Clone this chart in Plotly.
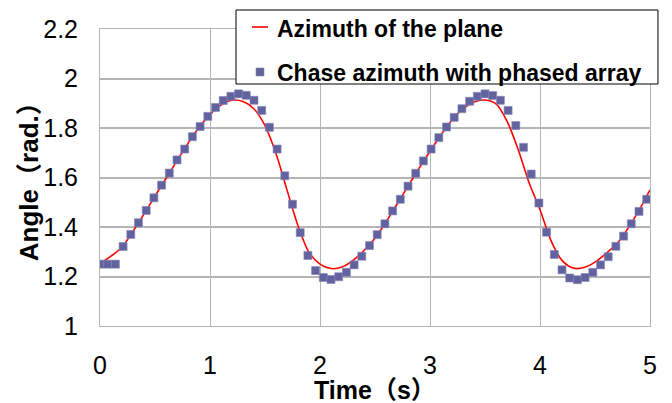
import plotly.graph_objects as go

# Azimuth of the plane (smooth reference curve), sampled every 0.1 s
plane_t = [0.0, 0.1, 0.2, 0.3, 0.4, 0.5, 0.6, 0.7, 0.8, 0.9,
           1.0, 1.1, 1.2, 1.3, 1.4, 1.5, 1.6, 1.7, 1.8, 1.9,
           2.0, 2.1, 2.2, 2.3, 2.4, 2.5, 2.6, 2.7, 2.8, 2.9,
           3.0, 3.1, 3.2, 3.3, 3.4, 3.5, 3.6, 3.7, 3.8, 3.9,
           4.0, 4.1, 4.2, 4.3, 4.4, 4.5, 4.6, 4.7, 4.8, 4.9, 5.0]
plane_az = [1.252, 1.282, 1.318, 1.383, 1.452, 1.525, 1.596, 1.668, 1.738, 1.802,
            1.855, 1.893, 1.912, 1.907, 1.877, 1.810, 1.697, 1.550, 1.405, 1.298,
            1.250, 1.232, 1.238, 1.265, 1.305, 1.355, 1.420, 1.492, 1.565, 1.637,
            1.706, 1.772, 1.832, 1.878, 1.905, 1.913, 1.897, 1.828, 1.715, 1.580,
            1.470, 1.345, 1.265, 1.234, 1.236, 1.258, 1.293, 1.333, 1.395, 1.467, 1.550]

# Azimuth tracked by the phased array, one sample every 0.07 s
chase_t = [0.00, 0.07, 0.14, 0.21, 0.28, 0.35, 0.42, 0.49, 0.56, 0.63,
           0.70, 0.77, 0.84, 0.91, 0.98, 1.05, 1.12, 1.19, 1.26, 1.33,
           1.40, 1.47, 1.54, 1.61, 1.68, 1.75, 1.82, 1.89, 1.96, 2.03,
           2.10, 2.17, 2.24, 2.31, 2.38, 2.45, 2.52, 2.59, 2.66, 2.73,
           2.80, 2.87, 2.94, 3.01, 3.08, 3.15, 3.22, 3.29, 3.36, 3.43,
           3.50, 3.57, 3.64, 3.71, 3.78, 3.85, 3.92, 3.99, 4.06, 4.13,
           4.20, 4.27, 4.34, 4.41, 4.48, 4.55, 4.62, 4.69, 4.76, 4.83,
           4.90, 4.97]
chase_az = [1.250, 1.250, 1.250, 1.321, 1.370, 1.417, 1.467, 1.518, 1.569, 1.618,
            1.671, 1.715, 1.765, 1.806, 1.847, 1.883, 1.911, 1.928, 1.938, 1.932,
            1.912, 1.871, 1.803, 1.715, 1.607, 1.492, 1.377, 1.285, 1.224, 1.196,
            1.188, 1.199, 1.217, 1.247, 1.282, 1.325, 1.369, 1.413, 1.465, 1.512,
            1.565, 1.617, 1.667, 1.715, 1.761, 1.804, 1.843, 1.878, 1.908, 1.928,
            1.938, 1.931, 1.912, 1.871, 1.810, 1.722, 1.614, 1.497, 1.379, 1.289,
            1.227, 1.194, 1.187, 1.196, 1.217, 1.247, 1.280, 1.322, 1.363, 1.413,
            1.463, 1.512]

x_ticks = [0, 1, 2, 3, 4, 5]
y_ticks = [1, 1.2, 1.4, 1.6, 1.8, 2, 2.2]
y_tick_text = ["1", "1.2", "1.4", "1.6", "1.8", "2", "2.2"]

PLANE_NAME = "Azimuth of the plane"
CHASE_NAME = "Chase azimuth with phased array"

FONT = "Liberation Sans, Arial, Noto Sans CJK SC, sans-serif"
GRID = "#b5b5b5"
RED = "#ff0000"
SLATE = "#62639e"

fig = go.Figure()
fig.add_trace(go.Scatter(
    x=plane_t, y=plane_az, mode="lines", name=PLANE_NAME,
    line=dict(color=RED, width=1.6, shape="spline", smoothing=0.8),
))
fig.add_trace(go.Scatter(
    x=chase_t, y=chase_az, mode="markers", name=CHASE_NAME,
    marker=dict(symbol="square", size=8, color=SLATE,
                line=dict(color="#8587b8", width=0.6)),
))

# Boxed key in the upper part of the chart (paper coordinates)
key_shapes = [
    dict(type="rect", xref="paper", yref="paper", layer="above",
         x0=0.2473, x1=1.0145, y0=0.8148, y1=1.0640,
         fillcolor="white", line=dict(color="black", width=1)),
    dict(type="line", xref="paper", yref="paper", layer="above",
         x0=0.2764, x1=0.3055, y0=1.0067, y1=1.0067,
         line=dict(color=RED, width=1.6)),
    dict(type="rect", xref="paper", yref="paper", layer="above",
         x0=0.2836, x1=0.2982, y0=0.8418, y1=0.8687,
         fillcolor=SLATE, line=dict(color="#8587b8", width=0.6)),
]
key_font = dict(family=FONT, size=23, color="black", weight="bold")
key_labels = [
    dict(text=PLANE_NAME, xref="paper", yref="paper", x=0.3175, y=1.0000,
         xanchor="left", yanchor="middle", showarrow=False, font=key_font),
    dict(text=CHASE_NAME, xref="paper", yref="paper", x=0.3175, y=0.8519,
         xanchor="left", yanchor="middle", showarrow=False, font=key_font),
]

title_font = dict(family=FONT, size=25, color="black", weight="bold")
axis_titles = [
    dict(text="Time（s）", xref="paper", yref="paper", x=0.5, y=-0.2155,
         xanchor="center", yanchor="middle", showarrow=False, font=title_font),
    dict(text="Angle（rad.）", xref="paper", yref="paper", x=-0.129, y=0.508,
         xanchor="center", yanchor="middle", textangle=-90, showarrow=False,
         font=dict(family=FONT, size=26, color="black", weight="bold")),
]

fig.update_layout(
    width=672, height=403,
    margin=dict(l=100, r=22, t=29, b=77),
    paper_bgcolor="white", plot_bgcolor="white",
    font=dict(family=FONT, color="black"),
    showlegend=False,
    xaxis=dict(
        range=[0, 5], tickvals=x_ticks, ticks="",
        showgrid=True, gridcolor=GRID, gridwidth=1,
        showline=True, mirror=True, linecolor=GRID, linewidth=1,
        zeroline=False, ticklabelstandoff=17,
        tickfont=dict(family=FONT, size=25, color="black"),
    ),
    yaxis=dict(
        range=[1, 2.2], tickvals=y_ticks, ticktext=y_tick_text, ticks="",
        showgrid=True, gridcolor=GRID, gridwidth=1.5,
        showline=True, mirror=True, linecolor=GRID, linewidth=1,
        zeroline=False, ticklabelstandoff=16,
        tickfont=dict(family=FONT, size=25, color="black"),
    ),
    shapes=key_shapes,
    annotations=axis_titles + key_labels,
)

fig.write_html("out.html")
